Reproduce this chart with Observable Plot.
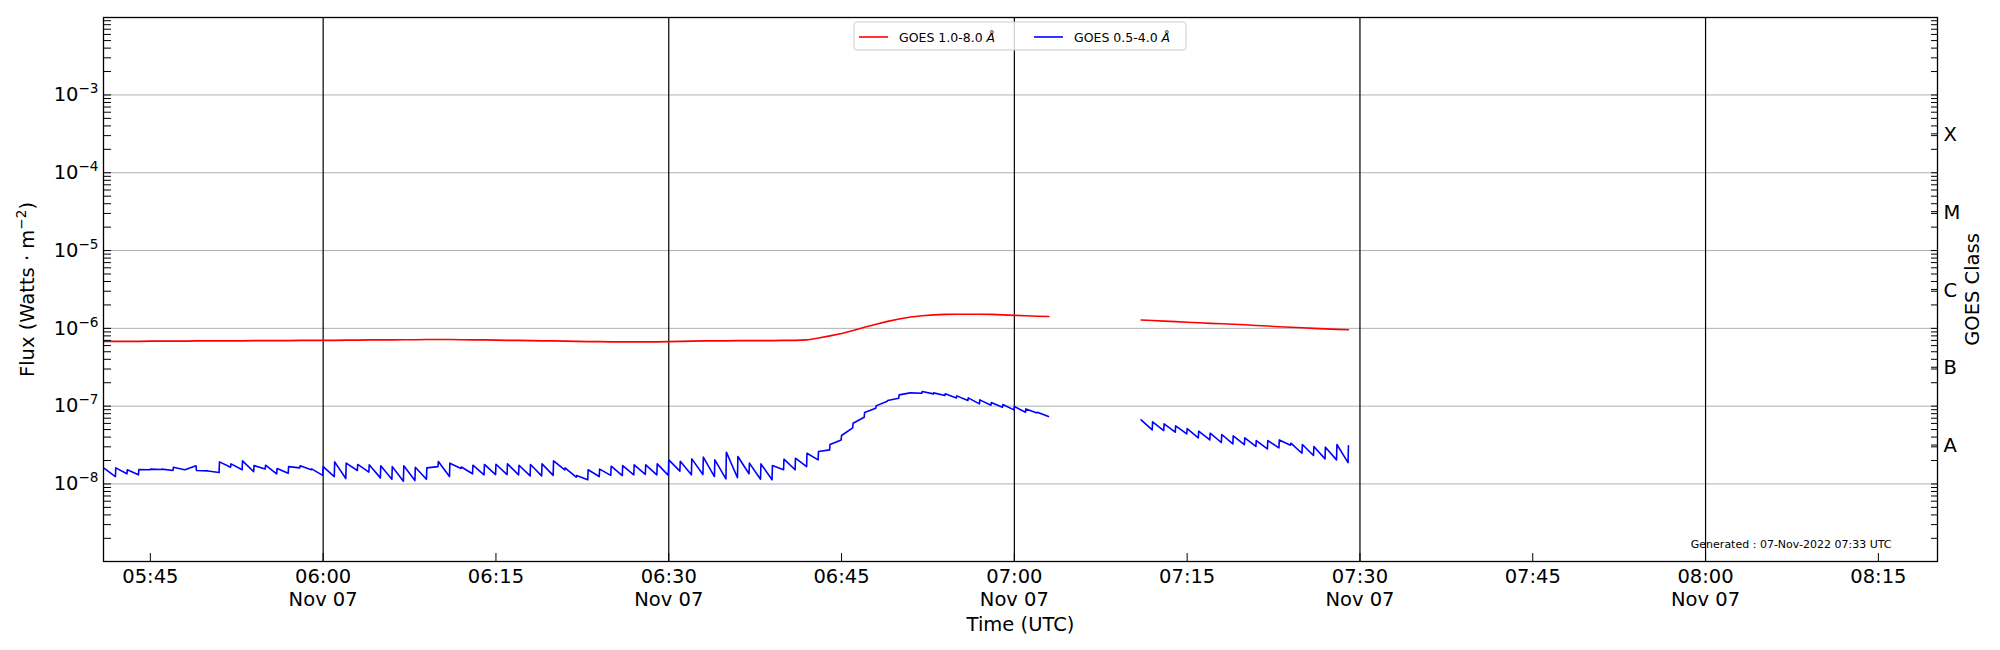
<!DOCTYPE html>
<html>
<head>
<meta charset="utf-8">
<script src="https://cdn.jsdelivr.net/npm/d3@7"></script>
<script src="https://cdn.jsdelivr.net/npm/@observablehq/plot@0.6"></script>
<style>
  body { margin: 0; background: #fff; }
  #chart { width: 2000px; height: 650px; }
</style>
</head>
<body>
<div id="chart"></div>
<script>
// ---------- data ----------
const day = "2022-11-07";
const redUnit = 1e-7;
const blueUnit = 1e-8;
const seg1Start = "05:41";
const seg2Start = "07:11";

// GOES 1.0-8.0 Å, one value per minute (units of 1e-7 W/m²)
const red1 = [6.8,6.8,6.8,6.8,6.85,6.85,6.85,6.85,6.9,6.9,6.9,6.9,6.9,6.95,6.95,6.95,6.95,7.0,7.0,
  7.0,7.0,7.05,7.05,7.1,7.1,7.1,7.15,7.15,7.2,7.2,7.2,
  7.15,7.1,7.1,7.05,7.0,7.0,6.95,6.9,6.9,6.85,6.8,6.75,6.75,6.7,6.7,6.7,6.7,6.7,
  6.75,6.8,6.85,6.9,6.9,6.9,6.95,6.95,6.95,6.95,7.0,7.0,
  7.1,7.5,8.0,8.6,9.4,10.3,11.3,12.3,13.2,14.0,14.5,14.9,15.1,15.2,15.2,15.2,15.1,14.9,
  14.7,14.5,14.3,14.2];
const red2 = [12.8,12.6,12.4,12.2,12.0,11.8,11.6,11.45,11.3,11.1,10.9,10.7,10.5,10.35,10.2,10.0,9.85,9.7,9.6];

// GOES 0.5-4.0 Å, value at start and end of each minute (units of 1e-8 W/m²)
const blueTop1 = [1.59,1.61,1.52,1.53,1.55,1.55,1.64,1.52,1.49,1.47,1.92,1.81,1.98,1.72,1.74,1.58,1.67,1.71,1.56,
  1.67,1.92,1.85,1.78,1.76,1.71,1.67,1.71,1.64,1.61,1.94,1.85,
  1.65,1.74,1.78,1.79,1.81,1.74,1.78,1.81,1.98,1.61,1.28,1.52,1.55,1.69,1.72,1.76,1.76,1.81,
  2.04,1.96,2.10,2.21,2.04,2.56,2.25,1.85,1.81,1.72,
  2.08,2.14,2.48,2.61,3.21,4.19,6.03,8.28,10.08,11.8,
  13.96,14.81,15.41,14.81,14.38,13.55,12.77,12.04,11.13,10.48,
  9.88,9.22,8.36];
const blueEnd1 = [1.245,1.35,1.31,1.52,1.53,1.49,1.52,1.71,1.47,1.40,1.64,1.52,1.44,1.56,1.35,1.37,1.61,1.52,1.29,
  1.245,1.173,1.49,1.42,1.197,1.15,1.084,1.106,1.15,1.67,1.245,1.58,
  1.35,1.31,1.32,1.32,1.31,1.27,1.27,1.29,1.52,1.22,1.13,1.245,1.29,1.28,1.31,1.33,1.31,1.29,
  1.46,1.31,1.32,1.245,1.16,1.20,1.35,1.15,1.13,1.52,
  1.52,1.67,2.04,2.74,3.68,5.26,7.21,9.41,11.57,12.65,
  14.81,14.66,14.38,13.69,12.77,11.80,10.69,10.28,9.69,8.95,
  8.36,8.19,7.35];
const blueTop2 = [6.66,6.28,5.92,5.58,5.15,4.76,4.49,4.32,4.15,3.91,3.61,3.61,3.68,3.34,3.21,3.03,2.97,3.21,3.09];
const blueEnd2 = [4.95,4.86,4.62,4.40,3.91,3.68,3.41,3.27,3.21,3.03,2.82,2.91,3.15,2.48,2.32,2.10,2.04,1.88];

// axes
const xDomain = ["05:40:56", "08:20:08"];
const xTickTimes = ["05:45","06:00","06:15","06:30","06:45","07:00","07:15","07:30","07:45","08:00","08:15"];
const xTickLabels = ["05:45","06:00\nNov 07","06:15","06:30\nNov 07","06:45","07:00\nNov 07","07:15","07:30\nNov 07","07:45","08:00\nNov 07","08:15"];
const dayLineTimes = ["06:00","06:30","07:00","07:30","08:00"];
const yDomain = [1.007e-9, 9.9e-3];
const yDecades = [1e-8, 1e-7, 1e-6, 1e-5, 1e-4, 1e-3];
const yTickLabels = ["10^{−8}","10^{−7}","10^{−6}","10^{−5}","10^{−4}","10^{−3}"];
const minorDecades = [1e-9, 1e-8, 1e-7, 1e-6, 1e-5, 1e-4, 1e-3];
const minorMultiples = [1,2,3,4,5,6,7,8,9];
const classPos = [3.162e-8, 3.162e-7, 3.162e-6, 3.162e-5, 3.162e-4];
const classLabels = ["A","B","C","M","X"];

const xLabel = "Time (UTC)";
const yLabel = "Flux (Watts · m^{−2})";
const classAxisLabel = "GOES Class";
const generatedNote = "Generated : 07-Nov-2022 07:33 UTC";
const legendItems = [
  {label: "GOES 1.0-8.0 ", unit: "Å", color: "#ff0000"},
  {label: "GOES 0.5-4.0 ", unit: "Å", color: "#0000ff"}
];

// ---------- build tables ----------
const T = s => new Date(`${day}T${s}${s.length === 5 ? ":00" : ""}Z`);
const plusMin = (s, i, sec = 0) => new Date(+T(s) + i * 60000 + sec * 1000);

const redRows = [
  ...red1.map((v, i) => ({t: plusMin(seg1Start, i), v: v * redUnit, seg: "r1"})),
  ...red2.map((v, i) => ({t: plusMin(seg2Start, i), v: v * redUnit, seg: "r2"}))
];
function sawRows(start, tops, ends, seg) {
  const rows = [];
  tops.forEach((v, i) => {
    rows.push({t: plusMin(start, i), v: v * blueUnit, seg});
    if (i < ends.length) rows.push({t: plusMin(start, i, 58), v: ends[i] * blueUnit, seg});
  });
  return rows;
}
const blueRows = [...sawRows(seg1Start, blueTop1, blueEnd1, "b1"), ...sawRows(seg2Start, blueTop2, blueEnd2, "b2")];

const yMinor = minorDecades.flatMap(d => minorMultiples.map(m => m * d))
  .filter(v => v >= yDomain[0] && v <= yDomain[1]);
const xTicks = xTickTimes.map(T);
const classRows = classPos.map((v, i) => ({v, label: classLabels[i]}));
const decadeRows = yDecades.map((v, i) => ({v, label: yTickLabels[i]}));

const FS = 19.5;
const chart = Plot.plot({
  width: 2000,
  height: 650,
  marginLeft: 103,
  marginRight: 63,
  marginTop: 17,
  marginBottom: 89,
  style: {fontFamily: "DejaVu Sans", fontSize: FS + "px", background: "white", color: "black"},
  x: {type: "utc", domain: xDomain.map(T)},
  y: {type: "log", domain: yDomain},
  marks: [
    Plot.ruleY(yDecades, {stroke: "#b0b0b0", strokeWidth: 1}),
    Plot.ruleX(dayLineTimes.map(T), {stroke: "black", strokeWidth: 1.2}),
    Plot.line(redRows, {x: "t", y: "v", z: "seg", stroke: "#ff0000", strokeWidth: 1.6}),
    Plot.line(blueRows, {x: "t", y: "v", z: "seg", stroke: "#0000ff", strokeWidth: 1.6}),
    Plot.frame({stroke: "black", strokeWidth: 1.3}),
    // inward ticks
    Plot.axisY({ticks: yMinor, tickSize: -8, tickFormat: () => "", label: null}),
    Plot.axisY({anchor: "right", ticks: yMinor, tickSize: -7, tickFormat: () => "", label: null}),
    Plot.axisY({anchor: "right", ticks: classPos, tickSize: -7, tickFormat: () => "", label: null}),
    Plot.axisX({ticks: xTicks, tickSize: -8, tickFormat: () => "", label: null}),
    // tick labels
    Plot.text(decadeRows, {y: "v", text: "label", frameAnchor: "left", dx: -5, textAnchor: "end", fontSize: FS}),
    Plot.text(classRows, {y: "v", text: "label", frameAnchor: "right", dx: 6, dy: 1, textAnchor: "start", fontSize: FS}),
    Plot.axisX({ticks: xTicks, tickSize: 0, tickPadding: 6, lineHeight: 1.15, fontSize: FS,
      tickFormat: d => xTickLabels[xTicks.findIndex(t => +t === +d)], label: null}),
    // axis titles & note
    Plot.text([xLabel], {text: d => d, frameAnchor: "bottom", dy: 69, textAnchor: "middle", fontSize: FS}),
    Plot.text([yLabel], {text: d => d, frameAnchor: "left", dx: -76, rotate: -90, textAnchor: "middle", fontSize: FS}),
    Plot.text([classAxisLabel], {text: d => d, frameAnchor: "right", dx: 35, rotate: -90, textAnchor: "middle", fontSize: FS}),
    Plot.text([generatedNote], {text: d => d, frameAnchor: "bottom-right", dx: -46, dy: -14, textAnchor: "end", fontSize: 11})
  ]
});

document.getElementById("chart").appendChild(chart);

// superscripts (matplotlib mathtext style)
d3.select(chart).selectAll("text").each(function () {
  const s = this.textContent;
  if (!s.includes("^{")) return;
  const parts = s.split(/\^\{([^}]*)\}/);
  this.textContent = "";
  const sel = d3.select(this);
  parts.forEach((p, i) => {
    if (!p) return;
    if (i % 2 === 0) {
      const ts = sel.append("tspan").text(p);
      if (i > 0) ts.attr("dy", "8");
    } else {
      sel.append("tspan").attr("dy", "-8").attr("font-size", "13.6px").text(p);
    }
  });
});

// legend (upper center, inside axes)
const lg = d3.select(chart).append("g")
  .attr("font-family", "DejaVu Sans").attr("font-size", "12.5px").attr("text-anchor", "start");
lg.append("rect").attr("x", 854).attr("y", 22).attr("width", 332).attr("height", 28).attr("rx", 3)
  .attr("fill", "white").attr("fill-opacity", 0.8).attr("stroke", "#cccccc").attr("stroke-width", 1);
const entryX = [859, 1034];
legendItems.forEach((it, i) => {
  const x0 = entryX[i];
  lg.append("line").attr("x1", x0).attr("x2", x0 + 29).attr("y1", 37).attr("y2", 37)
    .attr("stroke", it.color).attr("stroke-width", 1.6);
  const t = lg.append("text").attr("x", x0 + 40).attr("y", 41.5).attr("fill", "black").attr("text-anchor", "start");
  t.append("tspan").text(it.label);
  t.append("tspan").attr("font-style", "italic").text(it.unit);
});
</script>
</body>
</html>
